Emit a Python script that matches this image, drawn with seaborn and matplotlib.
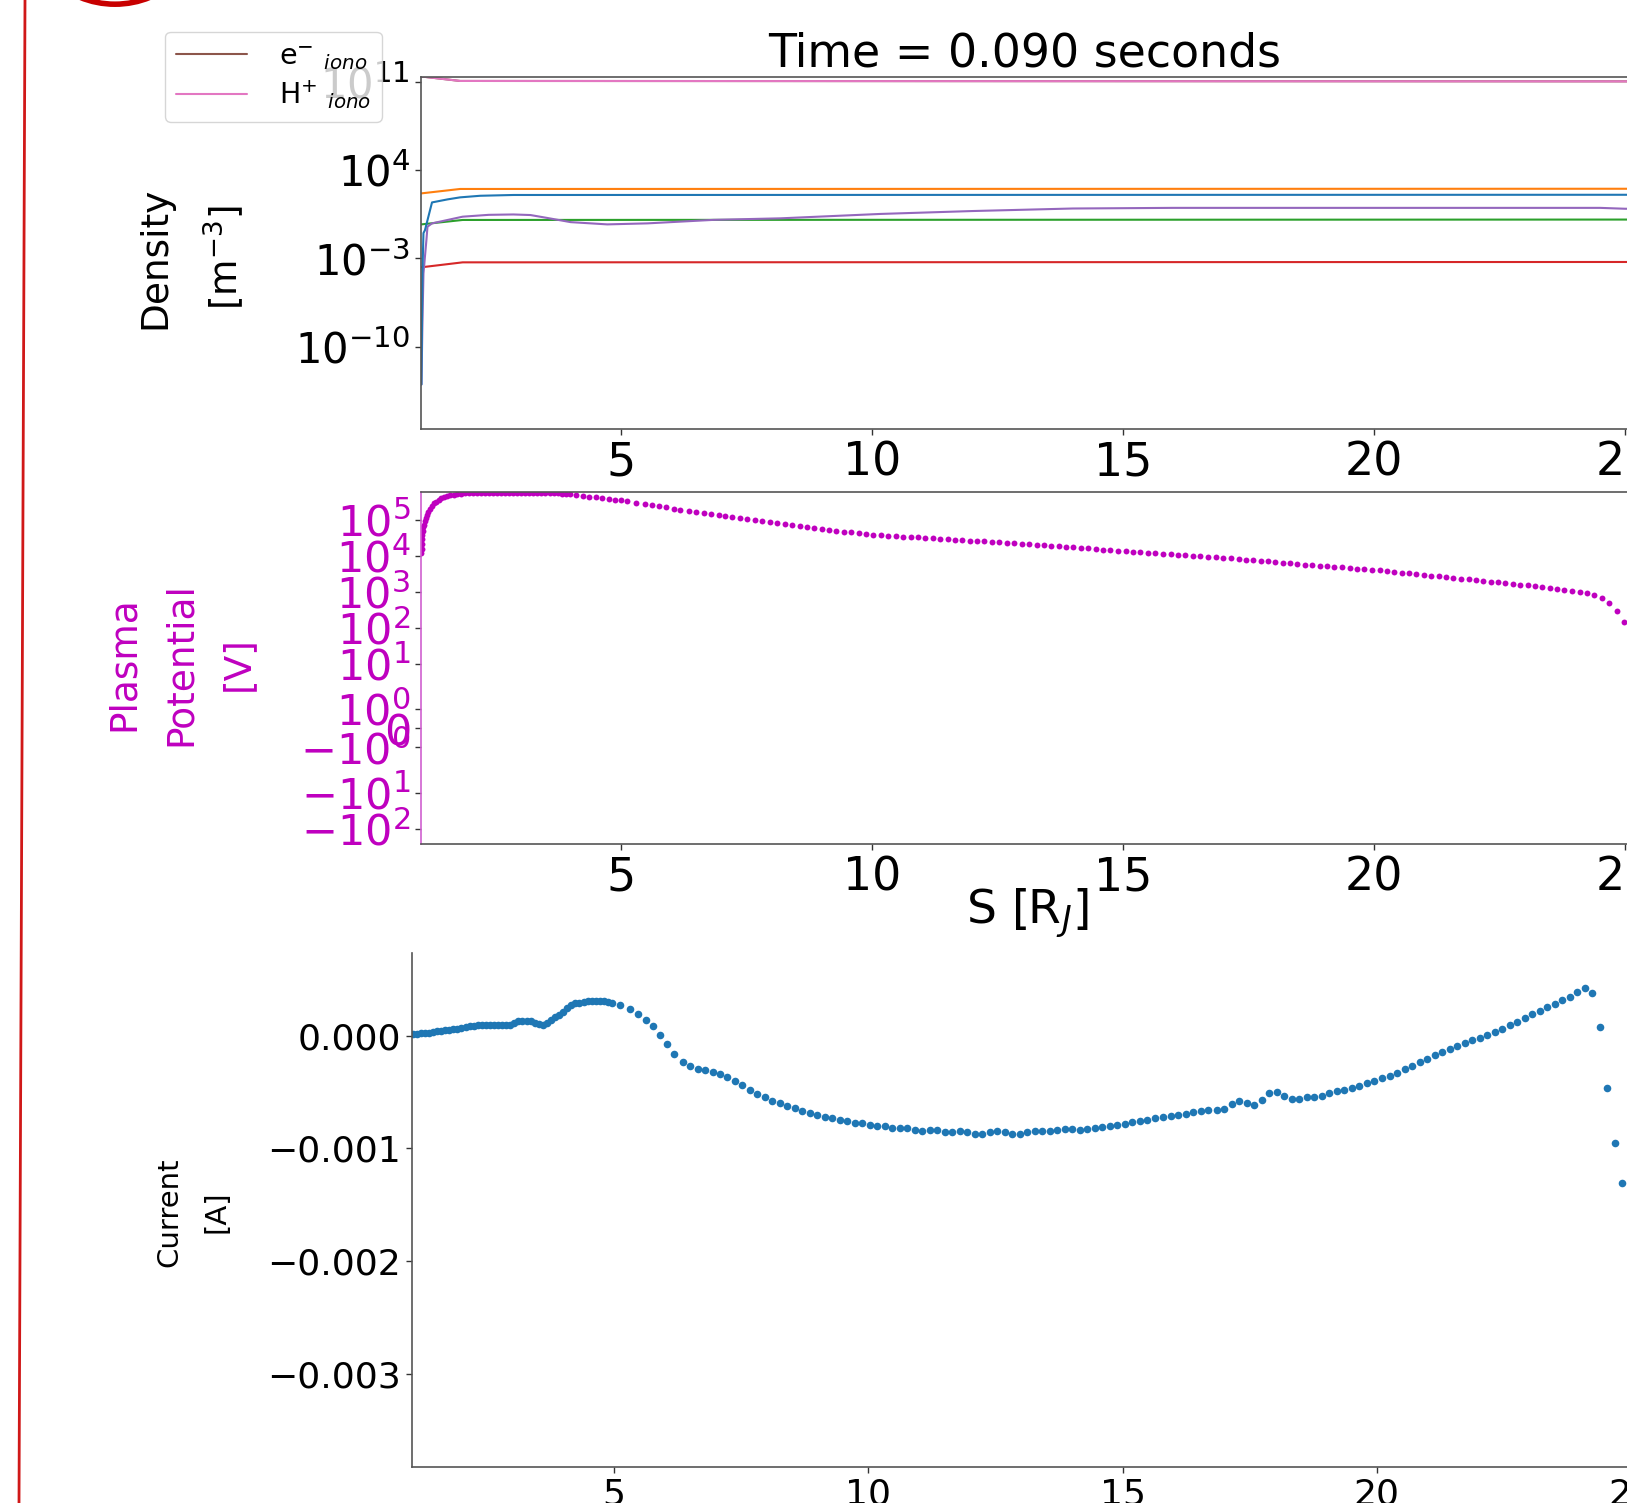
import matplotlib
matplotlib.use("Agg")
import matplotlib.pyplot as plt
import seaborn as sns
from matplotlib.ticker import NullLocator, FuncFormatter
from matplotlib.patches import Ellipse
from matplotlib.lines import Line2D

# ---------------- data ----------------
# Density panel [m^-3] : positions along field line S [R_J]
s_e_iono = [1.03, 1.80, 30.0]
n_e_iono = [2.6e11, 1.15e11, 1.05e11]
s_h_iono = [1.03, 1.80, 30.0]
n_h_iono = [2.6e11, 1.15e11, 1.05e11]
s_orange = [1.03, 1.80, 30.0]
n_orange = [141, 315, 330]
s_blue = [1.03, 1.05, 1.07, 1.10, 1.24, 1.55, 1.80, 2.20, 2.86, 30.0]
n_blue = [1e-13, 1e-4, 0.1, 0.17, 27, 47, 68, 91, 105, 110]
s_green = [1.03, 1.85, 30.0]
n_green = [0.49, 1.1, 1.2]
s_red = [1.03, 1.85, 30.0]
n_red = [1.95e-4, 4.8e-4, 5.2e-4]
s_purple = [1.03, 1.05, 1.07, 1.13, 1.15, 1.24, 1.85, 2.37, 2.86, 3.20, 3.53, 4.00,
            4.73, 5.53, 6.85, 8.18, 10.17, 12.0, 14.0, 16.0, 24.5, 25.0, 30.0]
n_purple = [1e-13, 1e-8, 6.3e-5, 0.032, 0.32, 0.59, 2.0, 2.8, 3.0, 2.7, 1.6, 0.74,
            0.49, 0.59, 1.12, 1.48, 3.3, 5.6, 8.9, 10.0, 10.0, 8.5, 8.0]

# shared sample grid of the outer field line (S >= 5.1)
s_tail = [5.12, 5.31, 5.48, 5.63, 5.77, 5.90, 6.05, 6.18, 6.35, 6.49,
          6.66, 6.79, 6.95, 7.08, 7.22, 7.38, 7.52, 7.67, 7.82, 7.97,
          8.11, 8.26, 8.41, 8.56, 8.70, 8.85, 9.00, 9.15, 9.29, 9.44,
          9.59, 9.74, 9.88, 10.03, 10.18, 10.33, 10.47, 10.62, 10.77, 10.92,
          11.06, 11.21, 11.36, 11.51, 11.65, 11.80, 11.95, 12.10, 12.24, 12.39,
          12.54, 12.69, 12.83, 12.98, 13.13, 13.28, 13.42, 13.57, 13.72, 13.87,
          14.01, 14.16, 14.31, 14.46, 14.60, 14.75, 14.90, 15.05, 15.19, 15.34,
          15.49, 15.64, 15.80, 15.95, 16.10, 16.24, 16.39, 16.54, 16.69, 16.85,
          17.00, 17.15, 17.30, 17.44, 17.59, 17.74, 17.88, 18.03, 18.18, 18.33,
          18.47, 18.62, 18.77, 18.92, 19.06, 19.21, 19.36, 19.51, 19.65, 19.80,
          19.95, 20.11, 20.26, 20.40, 20.55, 20.70, 20.84, 20.99, 21.14, 21.29,
          21.43, 21.58, 21.73, 21.88, 22.02, 22.17, 22.32, 22.47, 22.61, 22.76,
          22.91, 23.06, 23.20, 23.35, 23.50, 23.65, 23.79, 23.94, 24.09, 24.24,
          24.38, 24.53, 24.68, 24.83]

# Plasma potential [V]
s_pot_head = [1.030, 1.035, 1.040, 1.045, 1.050, 1.060, 1.070, 1.080, 1.100, 1.120,
              1.14, 1.17, 1.20, 1.24, 1.28, 1.32, 1.37, 1.42, 1.48, 1.54,
              1.60, 1.67, 1.74, 1.82, 1.90, 1.98, 2.06, 2.14, 2.22, 2.30,
              2.38, 2.46, 2.54, 2.62, 2.70, 2.78, 2.86, 2.94, 3.02, 3.10,
              3.18, 3.26, 3.34, 3.42, 3.50, 3.58, 3.66, 3.74, 3.82, 3.90,
              3.98, 4.11, 4.24, 4.37, 4.50, 4.63, 4.76, 4.89, 5.00]
v_pot_head = [1.2e4, 1.6e4, 2.2e4, 3.0e4, 3.9e4, 5.0e4, 6.2e4, 7.4e4, 9.6e4, 1.15e5,
              1.35e5, 1.62e5, 1.95e5, 2.4e5, 2.85e5, 3.2e5, 3.6e5, 3.95e5, 4.3e5, 4.6e5,
              4.85e5, 5.05e5, 5.2e5, 5.35e5, 5.45e5, 5.55e5, 5.6e5, 5.65e5, 5.7e5, 5.7e5,
              5.72e5, 5.72e5, 5.72e5, 5.72e5, 5.72e5, 5.7e5, 5.7e5, 5.7e5, 5.68e5, 5.66e5,
              5.64e5, 5.62e5, 5.6e5, 5.58e5, 5.55e5, 5.52e5, 5.48e5, 5.44e5, 5.4e5, 5.35e5,
              5.25e5, 5.0e5, 4.68e5, 4.42e5, 4.2e5, 4.0e5, 3.8e5, 3.62e5, 3.5e5]
v_pot_tail = [3.29e5, 2.99e5, 2.74e5, 2.54e5, 2.37e5, 2.21e5, 2.05e5, 1.92e5, 1.77e5, 1.64e5,
              1.54e5, 1.47e5, 1.39e5, 1.32e5, 1.24e5, 1.16e5, 1.09e5, 1.02e5, 9.5e4, 8.9e4,
              8.3e4, 7.8e4, 7.3e4, 6.9e4, 6.5e4, 6.05e4, 5.7e4, 5.3e4, 5.0e4, 4.7e4,
              4.49e4, 4.27e4, 4.07e4, 3.91e4, 3.76e4, 3.63e4, 3.53e4, 3.44e4, 3.34e4, 3.24e4,
              3.16e4, 3.07e4, 2.98e4, 2.90e4, 2.82e4, 2.74e4, 2.66e4, 2.58e4, 2.51e4, 2.44e4,
              2.37e4, 2.30e4, 2.24e4, 2.18e4, 2.11e4, 2.06e4, 1.99e4, 1.92e4, 1.85e4, 1.79e4,
              1.73e4, 1.67e4, 1.61e4, 1.55e4, 1.50e4, 1.45e4, 1.39e4, 1.35e4, 1.31e4, 1.26e4,
              1.22e4, 1.18e4, 1.14e4, 1.10e4, 1.07e4, 1.03e4, 1.00e4, 9.7e3, 9.4e3, 9.1e3,
              8.75e3, 8.5e3, 8.2e3, 7.9e3, 7.6e3, 7.3e3, 7.05e3, 6.75e3, 6.5e3, 6.2e3,
              6.0e3, 5.75e3, 5.55e3, 5.35e3, 5.15e3, 4.97e3, 4.79e3, 4.6e3, 4.45e3, 4.29e3,
              4.12e3, 3.94e3, 3.74e3, 3.58e3, 3.4e3, 3.24e3, 3.1e3, 2.95e3, 2.81e3, 2.68e3,
              2.56e3, 2.44e3, 2.33e3, 2.22e3, 2.12e3, 2.02e3, 1.93e3, 1.84e3, 1.76e3, 1.67e3,
              1.59e3, 1.51e3, 1.43e3, 1.35e3, 1.28e3, 1.21e3, 1.14e3, 1.07e3, 1.0e3, 942,
              841, 673, 482, 293]
s_pot_end = [24.98]
v_pot_end = [150]

# Field-aligned current [mA]
s_cur_head = [1.04, 1.12, 1.20, 1.28, 1.36, 1.44, 1.52, 1.60, 1.68, 1.76,
              1.84, 1.92, 2.00, 2.08, 2.16, 2.24, 2.32, 2.40, 2.48, 2.56,
              2.64, 2.72, 2.80, 2.88, 2.96, 3.04, 3.12, 3.20, 3.28, 3.36,
              3.44, 3.52, 3.60, 3.68, 3.76, 3.84, 3.92, 4.00, 4.08, 4.16,
              4.24, 4.32, 4.40, 4.48, 4.56, 4.64, 4.72, 4.80, 4.88, 4.96]
i_cur_head_mA = [0.010, 0.015, 0.019, 0.022, 0.026, 0.030, 0.036, 0.041, 0.046, 0.051,
                 0.056, 0.062, 0.068, 0.075, 0.081, 0.087, 0.092, 0.095, 0.096, 0.096,
                 0.096, 0.096, 0.096, 0.096, 0.097, 0.110, 0.125, 0.131, 0.131, 0.127,
                 0.115, 0.102, 0.094, 0.115, 0.138, 0.160, 0.185, 0.210, 0.240, 0.268,
                 0.285, 0.292, 0.296, 0.302, 0.307, 0.310, 0.308, 0.304, 0.299, 0.290]
i_cur_tail_mA = [0.273, 0.235, 0.190, 0.140, 0.080, 0.004, -0.073, -0.164, -0.232, -0.273,
                 -0.297, -0.303, -0.320, -0.340, -0.365, -0.406, -0.439, -0.480, -0.519, -0.548,
                 -0.578, -0.601, -0.625, -0.645, -0.669, -0.684, -0.702, -0.720, -0.734, -0.746,
                 -0.761, -0.773, -0.778, -0.793, -0.800, -0.805, -0.817, -0.823, -0.823, -0.838,
                 -0.847, -0.838, -0.840, -0.856, -0.859, -0.850, -0.856, -0.871, -0.871, -0.856,
                 -0.850, -0.859, -0.871, -0.871, -0.856, -0.850, -0.850, -0.850, -0.838, -0.826,
                 -0.826, -0.840, -0.832, -0.823, -0.811, -0.802, -0.791, -0.782, -0.770, -0.758,
                 -0.746, -0.735, -0.725, -0.715, -0.705, -0.693, -0.681, -0.670, -0.658, -0.658,
                 -0.652, -0.607, -0.578, -0.598, -0.616, -0.572, -0.512, -0.504, -0.539, -0.563,
                 -0.563, -0.548, -0.543, -0.534, -0.512, -0.489, -0.480, -0.465, -0.445, -0.421,
                 -0.400, -0.377, -0.356, -0.332, -0.300, -0.268, -0.237, -0.205, -0.174, -0.148,
                 -0.122, -0.096, -0.070, -0.044, -0.018, 0.008, 0.034, 0.062, 0.093, 0.124,
                 0.155, 0.187, 0.218, 0.249, 0.281, 0.312, 0.343, 0.382, 0.422, 0.379,
                 0.072, -0.464, -0.956, -1.306]

title_text = "Time = 0.090 seconds"
density_ticks = [1e-10, 1e-3, 1e4, 1e11]
x_ticks = [5, 10, 15, 20, 25, 30]
current_ticks = [-0.003, -0.002, -0.001, 0.0]

# ---------------- figure ----------------
sns.set_theme(style="ticks")
plt.rcParams['font.family'] = ['DejaVu Sans']
plt.rcParams['mathtext.fontset'] = 'dejavusans'
plt.rcParams['axes.edgecolor'] = '#555555'
plt.rcParams['axes.linewidth'] = 1.2
plt.rcParams['text.color'] = 'black'
plt.rcParams['axes.labelcolor'] = 'black'
plt.rcParams['xtick.color'] = '#333333'
plt.rcParams['ytick.color'] = '#333333'
plt.rcParams['xtick.labelcolor'] = 'black'
plt.rcParams['ytick.labelcolor'] = 'black'

W, H = 1627, 1503
fig = plt.figure(figsize=(W / 100, H / 100), dpi=100)
fig.patch.set_facecolor('white')

ax1 = fig.add_axes([421.3 / W, 1 - 429.0 / H, 1455.0 / W, 352.3 / H])
ax2 = fig.add_axes([421.3 / W, 1 - 844.0 / H, 1455.0 / W, 352.3 / H])
ax3 = fig.add_axes([412.3 / W, 1 - 1466.7 / H, 1473.0 / W, 514.2 / H])

# --- density panel ---
lines_spec = [
    (s_orange, n_orange, '#ff7f0e', None),
    (s_green, n_green, '#2ca02c', None),
    (s_red, n_red, '#d62728', None),
    (s_purple, n_purple, '#9467bd', None),
    (s_blue, n_blue, '#1f77b4', None),
    (s_e_iono, n_e_iono, '#8c564b', 'e$^{-}$ $_{iono}$'),
    (s_h_iono, n_h_iono, '#e377c2', 'H$^{+}$ $_{iono}$'),
]
handles = []
for s, n, c, lab in lines_spec:
    sns.lineplot(x=s, y=n, ax=ax1, color=c, linewidth=1.5, label=lab)
    if lab is not None:
        handles.append(ax1.get_lines()[-1])
ax1.set_yscale('log')
ax1.set_ylim(2.95e-17, 2.5e11)
ax1.set_xlim(1.027, 30)
ax1.set_yticks(density_ticks)
ax1.yaxis.set_minor_locator(NullLocator())
ax1.set_xticks(x_ticks)
ax1.xaxis.set_minor_locator(NullLocator())
ax1.tick_params(axis='x', labelsize=33, length=4, width=1, pad=4)
ax1.tick_params(axis='y', labelsize=30, length=4, width=1, pad=4)
ax1.set_xlabel('')
ax1.set_ylabel("Density\n[m$^{-3}$]", fontsize=27, va='center', ha='center',
               multialignment='center', linespacing=1.75)
ax1.yaxis.set_label_coords(-0.1576, 0.4854)
ax1.set_title(title_text, fontsize=33, x=0.4149, pad=7)
leg = ax1.legend(handles=handles, labels=[h.get_label() for h in handles],
                 loc='upper left', bbox_to_anchor=(-0.176, 1.128), borderaxespad=0,
                 fontsize=20.5, handlelength=2.5, handletextpad=1.1, labelspacing=0.25,
                 borderpad=0.38, frameon=True, fancybox=True, framealpha=0.8,
                 edgecolor='#cccccc')

# --- plasma potential panel ---
s_pot = s_pot_head + s_tail + s_pot_end
v_pot = v_pot_head + v_pot_tail + v_pot_end
sns.scatterplot(x=s_pot, y=v_pot, ax=ax2, color='#bf00bf', s=18, linewidth=0)
ax2.set_yscale('symlog', linthresh=2.1, linscale=1.0)
ax2.set_ylim(-266, 6.06e5)
ax2.set_xlim(1.027, 30)
ax2.yaxis.set_minor_locator(NullLocator())
ax2.set_xticks(x_ticks)
ax2.xaxis.set_minor_locator(NullLocator())
ax2.tick_params(axis='x', labelsize=33, length=4, width=1, pad=4)
ax2.tick_params(axis='y', labelsize=31, length=4, width=1, pad=4, labelcolor='#bf00bf')
ax2.spines['left'].set_color('#cf60cf')
ax2.set_ylabel("Plasma\nPotential\n[V]", fontsize=27, color='#bf00bf', va='center',
               ha='center', multialignment='center', linespacing=1.75)
ax2.yaxis.set_label_coords(-0.1655, 0.511)
ax2.set_xlabel("S [R$_J$]", fontsize=34, va='center')
ax2.xaxis.set_label_coords(0.4163, -0.1959)

# --- current panel ---
s_cur = s_cur_head + s_tail
i_cur = [v / 1000.0 for v in i_cur_head_mA + i_cur_tail_mA]
sns.scatterplot(x=s_cur, y=i_cur, ax=ax3, color='#1f77b4', s=30, linewidth=0)
ax3.set_xlim(1.033, 30)
ax3.set_ylim(-0.003823, 0.000736)
ax3.set_yticks(current_ticks)
ax3.set_xticks(x_ticks)
ax3.yaxis.set_major_formatter(FuncFormatter(
    lambda v, p: ("%.3f" % (0.0 if abs(v) < 1e-12 else v)).replace('-', '\u2212')))
ax3.tick_params(axis='x', labelsize=26, length=4, width=1, pad=4)
ax3.tick_params(axis='y', labelsize=26, length=4, width=1, pad=4)
ax3.set_ylabel("Current\n[A]", fontsize=21, va='center', ha='center',
               multialignment='center', linespacing=1.9)
ax3.yaxis.set_label_coords(-0.1489, 0.4953)
ax3.set_xlabel('')
sns.despine(ax=ax3)

# --- red annotation marks of the screenshot ---
fig.add_artist(Line2D([25 / W, 19 / W], [1.0, 0.0], transform=fig.transFigure,
                      color='#d01818', linewidth=2.0))
fig.add_artist(Ellipse((115 / W, 1 + 88 / H), 2 * 92.2 / W, 2 * 92.2 / H,
                       transform=fig.transFigure, fill=False, edgecolor='#c80000',
                       linewidth=4.0))

fig.savefig("out.png", dpi=100, facecolor='white')
